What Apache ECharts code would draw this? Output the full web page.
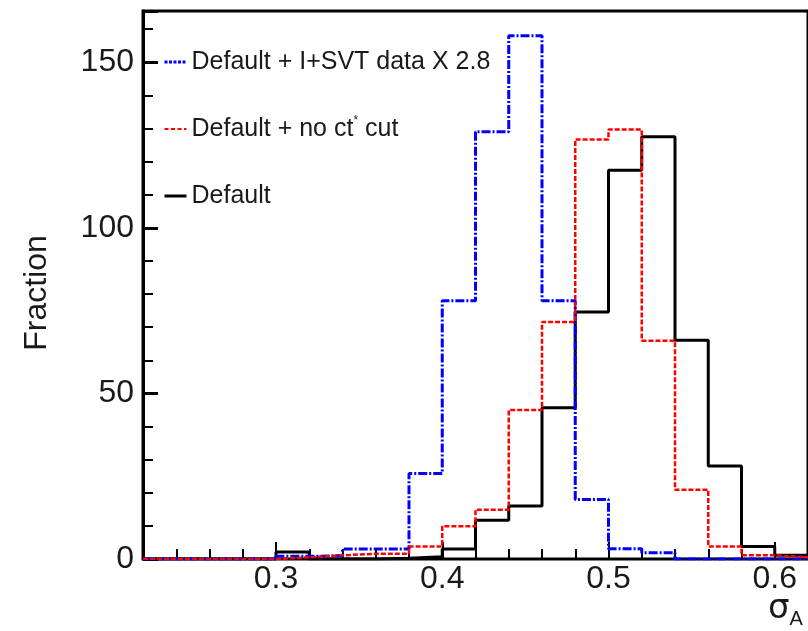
<!DOCTYPE html>
<html>
<head>
<meta charset="utf-8">
<script src="https://cdn.jsdelivr.net/npm/echarts@6/dist/echarts.min.js"></script>
<style>
  html, body { margin: 0; padding: 0; background: #fff; }
  #chart { width: 808px; height: 631px; }
</style>
</head>
<body>
<div id="chart"></div>
<script>
// sigma_A bin edges (width 0.02)
var binEdges = [0.22, 0.24, 0.26, 0.28, 0.30, 0.32, 0.34, 0.36, 0.38, 0.40, 0.42,
                0.44, 0.46, 0.48, 0.50, 0.52, 0.54, 0.56, 0.58, 0.60, 0.62];
// counts per bin
var svtCounts     = [0, 0, 0, 0, 0.8, 1.0, 3.0, 3.0, 25.8, 78, 129, 158, 78, 18, 3.1, 1.9, 0, 0, 0, 0];
var noCtCounts    = [0, 0, 0, 0, 0.5, 1.1, 1.6, 1.6, 3.8, 9.9, 14.9, 45, 71.6, 126.7, 129.7, 65.9, 20.9, 3.8, 1.1, 0.5];
var defaultCounts = [0, 0, 0, 0, 2.1, 0, 0, 0.2, 0.7, 3.0, 11.7, 16, 45.7, 74.6, 117.4, 127.5, 66.1, 28.1, 3.8, 1.1];
var xLabels = [0.3, 0.4, 0.5, 0.6];
var names = ['Default + I+SVT data X 2.8', 'Default + no ct* cut', 'Default'];

function steps(counts) {
    var pts = [];
    for (var i = 0; i < counts.length; i++) {
        pts.push([binEdges[i], counts[i]]);
    }
    pts.push([binEdges[counts.length], counts[counts.length - 1]]);
    return pts;
}

var chart = echarts.init(document.getElementById('chart'));
var txt = '#1a1a1a';
var font = 'Liberation Sans, Arial';

chart.setOption({
    backgroundColor: '#fff',
    animation: false,
    grid: {
        left: 143, top: 11, right: -2, bottom: 72,
        show: true, borderColor: '#000', borderWidth: 3
    },
    legend: {
        orient: 'vertical',
        left: 163, top: 48,
        padding: 0,
        itemWidth: 22, itemHeight: 14,
        itemGap: 39,
        itemTextGap: 3,
        itemStyle: { opacity: 0 },
        data: [
            { name: names[0], lineStyle: { width: 3, type: [3, 1.5] } },
            { name: names[1], lineStyle: { width: 2, type: [4, 2.5] } },
            { name: names[2], lineStyle: { width: 3 } }
        ],
        formatter: function (name) {
            if (name === names[1]) return 'Default + no ct{sup|*} cut';
            return name;
        },
        textStyle: {
            fontFamily: font, fontSize: 25, color: txt, lineHeight: 28,
            rich: {
                sup: { fontFamily: font, fontSize: 12, verticalAlign: 'top', padding: [0, 0, 14, 0], color: txt }
            }
        }
    },
    xAxis: [{
        type: 'value', min: 0.22, max: 0.62, interval: 0.02,
        axisLine: { show: true, onZero: false, lineStyle: { color: '#000', width: 2 } },
        axisTick: { show: true, inside: true, length: 10, lineStyle: { color: '#000', width: 2 } },
        axisLabel: {
            customValues: xLabels, margin: 4,
            fontFamily: font, fontSize: 32, color: txt,
            formatter: function (v) { return v.toFixed(1); }
        },
        splitLine: { show: false }
    }, {
        type: 'value', min: 0.22, max: 0.62, position: 'bottom',
        axisLine: { show: false },
        axisTick: { show: true, inside: true, length: 17, customValues: xLabels, lineStyle: { color: '#000', width: 2 } },
        axisLabel: { show: false },
        splitLine: { show: false }
    }],
    yAxis: {
        type: 'value', min: 0, max: 165.5, interval: 50,
        name: 'Fraction', nameLocation: 'middle', nameGap: 90, nameRotate: 90,
        nameTextStyle: { fontFamily: font, fontSize: 32, color: txt, padding: [0, 0, 0, -16] },
        axisLine: { show: true, lineStyle: { color: '#000', width: 3 } },
        axisTick: { show: true, inside: true, length: 15, lineStyle: { color: '#000', width: 3 } },
        minorTick: { show: true, splitNumber: 5, length: 10, lineStyle: { color: '#000', width: 2 } },
        axisLabel: {
            showMaxLabel: false, margin: 9,
            fontFamily: font, fontSize: 32, color: txt
        },
        splitLine: { show: false }
    },
    graphic: [{
        type: 'text', left: 768, top: 592,
        style: {
            text: '{s|σ}{a|A}',
            rich: {
                s: { fontFamily: 'DejaVu Sans', fontSize: 34, fill: txt },
                a: { fontFamily: font, fontSize: 20, fill: txt, padding: [20, 0, 0, 0] }
            }
        }
    }],
    series: [{
        name: names[2], type: 'line', step: 'end', symbol: 'none', z: 2,
        data: steps(defaultCounts),
        itemStyle: { color: '#000' },
        lineStyle: { color: '#000', width: 3 }
    }, {
        name: names[0], type: 'line', step: 'end', symbol: 'none', z: 3,
        data: steps(svtCounts),
        itemStyle: { color: '#0000ff' },
        lineStyle: { color: '#0000ff', width: 3, type: [9, 2, 2, 2] }
    }, {
        name: names[1], type: 'line', step: 'end', symbol: 'none', z: 4,
        data: steps(noCtCounts),
        itemStyle: { color: '#ff0000' },
        lineStyle: { color: '#ff0000', width: 2.5, type: [5, 2] }
    }]
});
</script>
</body>
</html>
